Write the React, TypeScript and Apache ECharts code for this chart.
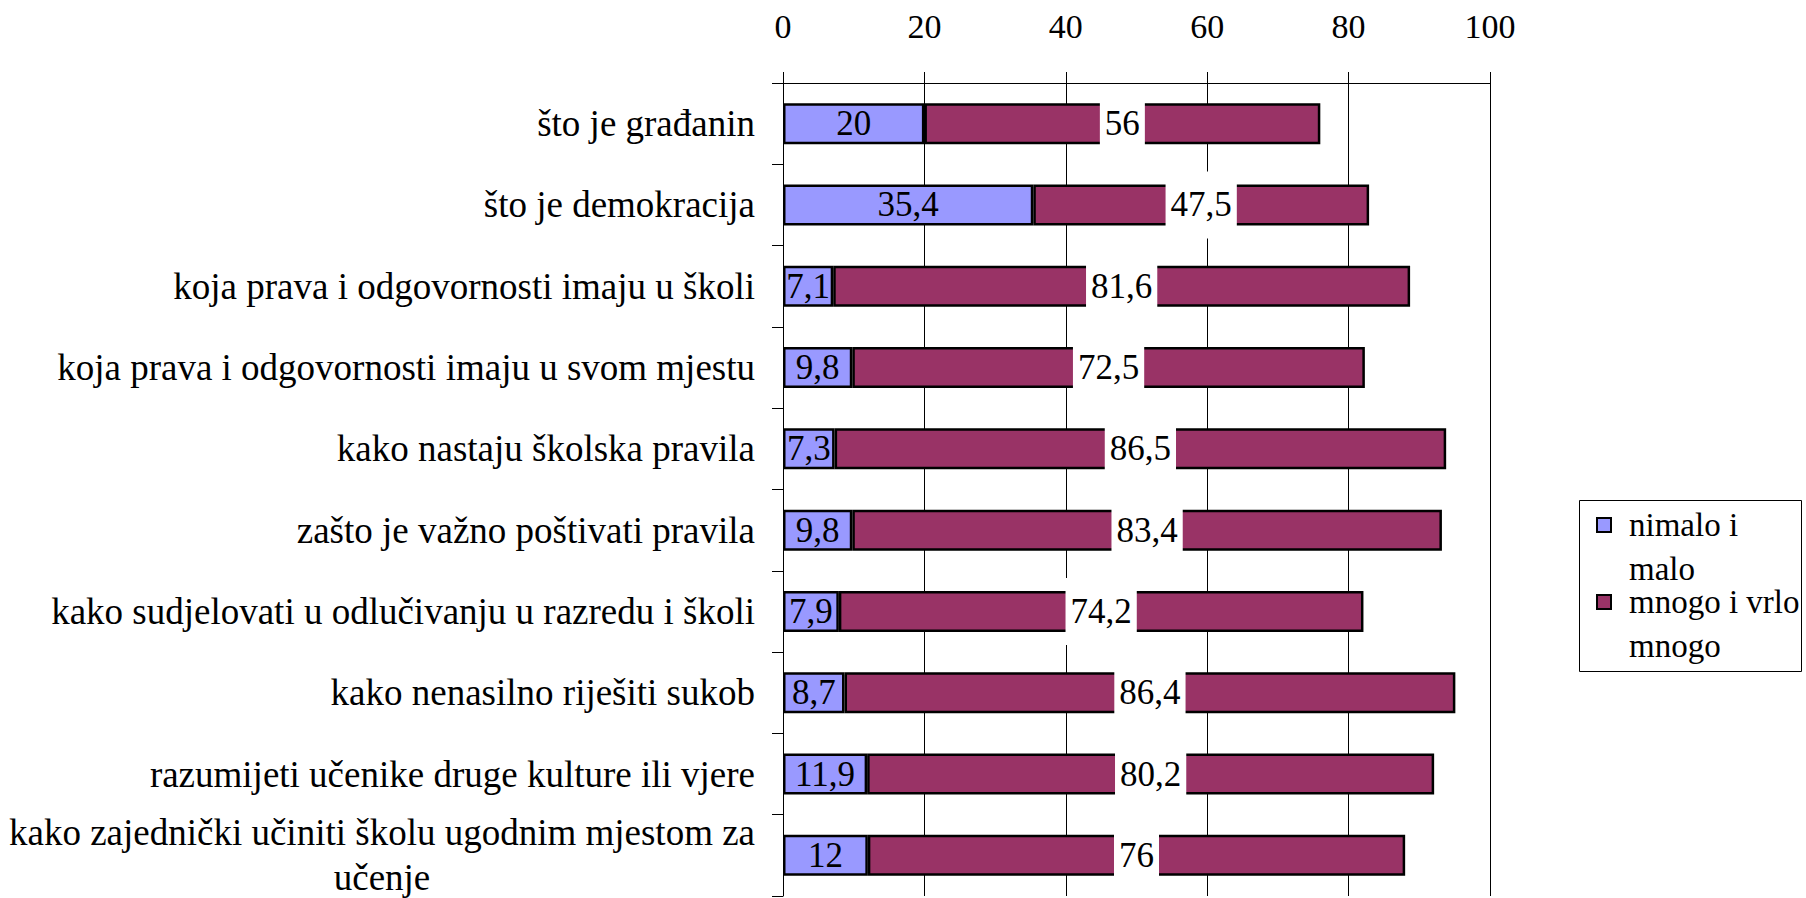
import React, { useEffect, useRef } from "react";
import * as echarts from "echarts";

const categories: string[] = [
  "što je građanin",
  "što je demokracija",
  "koja prava i odgovornosti imaju u školi",
  "koja prava i odgovornosti imaju u svom mjestu",
  "kako nastaju školska pravila",
  "zašto je važno poštivati pravila",
  "kako sudjelovati u odlučivanju u razredu i školi",
  "kako nenasilno riješiti sukob",
  "razumijeti učenike druge kulture ili vjere",
  "kako zajednički učiniti školu ugodnim mjestom za\nučenje",
];

const nimaloMalo: number[] = [20, 35.4, 7.1, 9.8, 7.3, 9.8, 7.9, 8.7, 11.9, 12];
const mnogoVrloMnogo: number[] = [56, 47.5, 81.6, 72.5, 86.5, 83.4, 74.2, 86.4, 80.2, 76];

const seriesNames: string[] = ["nimalo i malo", "mnogo i vrlo mnogo"];
const legendLabels: string[] = ["nimalo i\nmalo", "mnogo i vrlo\nmnogo"];

const FONT = "Liberation Serif";

const fmt = (v: number) => String(v).replace(".", ",");

export default function App() {
  const ref = useRef<HTMLDivElement>(null);

  useEffect(() => {
    if (!ref.current) return;
    const chart = echarts.init(ref.current, undefined, { renderer: "svg" });

    const legendBase = (i: number, top: number) => ({
      orient: "vertical",
      left: 1596,
      top,
      padding: 0,
      icon: "rect",
      itemWidth: 14,
      itemHeight: 14,
      data: [seriesNames[i]],
      selectedMode: false,
      formatter: () => "\n" + legendLabels[i],
      textStyle: {
        fontFamily: FONT,
        fontSize: 33,
        color: "#000",
        lineHeight: 44,
        padding: [0, 0, 0, 13],
      },
      itemStyle: { borderColor: "#000", borderWidth: 2 },
    });

    chart.setOption({
      animation: false,
      grid: { left: 783, right: 316, top: 83, bottom: 2, outerBoundsMode: "none" },
      legend: [legendBase(0, 459), legendBase(1, 536)],
      graphic: [
        {
          type: "rect",
          shape: { x: 1579.5, y: 500.5, width: 222, height: 171 },
          style: { fill: "none", stroke: "#000", lineWidth: 1 },
          silent: true,
        },
      ],
      xAxis: {
        type: "value",
        position: "top",
        min: 0,
        max: 100,
        interval: 20,
        axisLine: { show: true, lineStyle: { color: "#000", width: 1 } },
        axisTick: { show: true, length: 11, lineStyle: { color: "#000" } },
        axisLabel: { fontFamily: FONT, fontSize: 34, color: "#000", margin: 40 },
        splitLine: { show: true, lineStyle: { color: "#000", width: 1 } },
      },
      yAxis: {
        type: "category",
        inverse: true,
        data: categories,
        axisLine: { show: true, lineStyle: { color: "#000", width: 1 } },
        axisTick: { show: true, length: 11, lineStyle: { color: "#000" } },
        axisLabel: {
          interval: 0,
          fontFamily: FONT,
          fontSize: 37,
          color: "#000",
          margin: 28,
          formatter: (value: string) =>
            value.includes("\n")
              ? value
                  .split("\n")
                  .map((l) => `{c|${l}}`)
                  .join("\n")
              : value,
          rich: {
            c: {
              align: "center",
              fontFamily: FONT,
              fontSize: 37,
              lineHeight: 45,
              color: "#000",
            },
          },
        },
      },
      series: [
        {
          name: seriesNames[0],
          type: "bar",
          stack: "total",
          barWidth: 41,
          data: nimaloMalo,
          itemStyle: { color: "#9999FF", borderColor: "#000", borderWidth: 2.5 },
          label: {
            show: true,
            position: "inside",
            fontFamily: FONT,
            fontSize: 35,
            formatter: (p: any) => `{v|${fmt(p.value)}}`,
            rich: { v: { color: "#000", fontFamily: FONT, fontSize: 35 } },
          },
        },
        {
          name: seriesNames[1],
          type: "bar",
          stack: "total",
          barWidth: 41,
          data: mnogoVrloMnogo,
          itemStyle: { color: "#993366", borderColor: "#000", borderWidth: 2.5 },
          label: {
            show: true,
            position: "inside",
            fontFamily: FONT,
            fontSize: 35,
            color: "#000",
            backgroundColor: "#fff",
            padding: [16, 5],
            formatter: (p: any) => fmt(p.value),
          },
        },
      ],
    });

    return () => chart.dispose();
  }, []);

  return (
    <div
      ref={ref}
      style={{ position: "absolute", left: 0, top: 0, width: 1806, height: 898 }}
    />
  );
}
